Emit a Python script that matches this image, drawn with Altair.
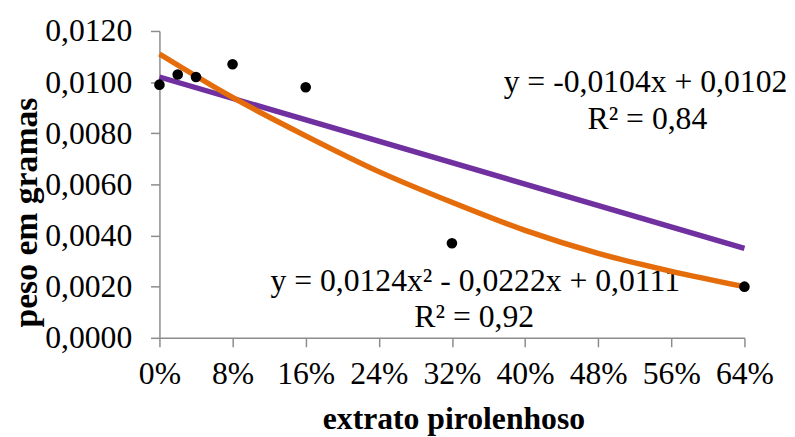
import altair as alt
import pandas as pd

# observed points
x_pts = [0.00, 0.02, 0.04, 0.08, 0.16, 0.32, 0.64]
y_pts = [0.0099, 0.0103, 0.0102, 0.0107, 0.0098, 0.0037, 0.0020]

# linear trendline, read at its ends
lin_x = [0.00, 0.64]
lin_y = [0.0102, 0.0035]

# polynomial trendline
quad_x = [0.00, 0.08, 0.16, 0.24, 0.32, 0.40, 0.48, 0.56, 0.64]
quad_y = [0.0111, 0.0094, 0.0079, 0.0065, 0.0053, 0.0042, 0.0033, 0.0026, 0.0020]

x_ticks = [0.00, 0.08, 0.16, 0.24, 0.32, 0.40, 0.48, 0.56, 0.64]
y_ticks = [0.000, 0.002, 0.004, 0.006, 0.008, 0.010, 0.012]

eq_lin = ["y = -0,0104x + 0,0102", "R² = 0,84"]
eq_quad = ["y = 0,0124x² - 0,0222x + 0,0111", "R² = 0,92"]

FONT = "Liberation Serif"
AXC = "#8c8c8c"

pts = pd.DataFrame({"x": x_pts, "y": y_pts})
lin = pd.DataFrame({"x": lin_x, "y": lin_y})
quad = pd.DataFrame({"x": quad_x, "y": quad_y})

xs = alt.Scale(domain=[0, 0.64], nice=False, zero=False)
ys = alt.Scale(domain=[0, 0.012], nice=False)

xax = alt.Axis(
    values=x_ticks,
    labelExpr="format(datum.value, '.0%')",
    grid=False, labelFlush=False, labelOverlap=False, labelBound=False,
    domainColor=AXC, tickColor=AXC, tickSize=9, domainWidth=1.5, tickWidth=1.5,
    labelFont=FONT, labelFontSize=32, labelColor="black", labelPadding=12,
    title="extrato pirolenhoso", titleFont=FONT, titleFontSize=32,
    titleFontWeight="bold", titleColor="black",
    titleX=297, titleY=92, titleAlign="center", titleBaseline="alphabetic",
)
yax = alt.Axis(
    values=y_ticks,
    labelExpr="replace(format(datum.value, '.4f'), '.', ',')",
    grid=False, labelOverlap=False, labelBound=False, labelFlush=False,
    domainColor=AXC, tickColor=AXC, tickSize=9, domainWidth=1.5, tickWidth=1.5,
    labelFont=FONT, labelFontSize=32, labelColor="black", labelPadding=19,
    title="peso em gramas", titleFont=FONT, titleFontSize=34,
    titleFontWeight="bold", titleColor="black",
    titleX=-134, titleY=183, titleAlign="center", titleBaseline="middle",
    titleAngle=270,
)

lin_line = alt.Chart(lin).mark_line(color="#7030A0", strokeWidth=5.5).encode(
    x=alt.X("x:Q", scale=xs, axis=xax),
    y=alt.Y("y:Q", scale=ys, axis=yax),
)
quad_line = alt.Chart(quad).mark_line(
    color="#E46C0A", strokeWidth=5.5, interpolate="monotone"
).encode(x=alt.X("x:Q", scale=xs), y=alt.Y("y:Q", scale=ys))

points = alt.Chart(pts).mark_circle(color="black", opacity=1, size=115).encode(
    x=alt.X("x:Q", scale=xs), y=alt.Y("y:Q", scale=ys)
)


def label(txt, px, py):
    return alt.Chart(pd.DataFrame({"t": [txt]})).mark_text(
        font=FONT, fontSize=32, color="black", align="center", baseline="middle"
    ).encode(x=alt.value(px), y=alt.value(py), text="t:N")


texts = [
    label(eq_lin[0], 491, 52),
    label(eq_lin[1], 493, 89),
    label(eq_quad[0], 319, 253),
    label(eq_quad[1], 318, 289),
]

chart = alt.layer(texts[0], texts[1], texts[2], texts[3], lin_line, quad_line, points).properties(
    width=591,
    height=310,
    autosize=alt.AutoSizeParams(type="none"),
    padding={"left": 153, "top": 21, "right": 43, "bottom": 98},
    background="white",
).configure_view(stroke=None)

chart.save("out.html", embed_options={"renderer": "svg", "actions": False})
